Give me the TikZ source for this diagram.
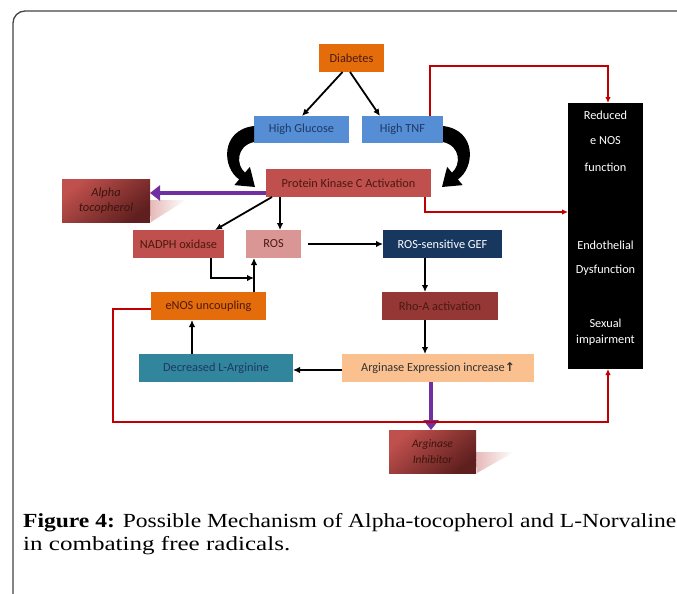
\documentclass[tikz,border=0pt]{standalone}
\usepackage{fontspec}
\usepackage{graphicx}
\setmainfont{Carlito}
\newfontfamily\capfont{Liberation Serif}
\newfontfamily\djv{DejaVu Sans}
\usetikzlibrary{arrows.meta,calc}
\definecolor{orng}{HTML}{E46C0A}
\definecolor{blu}{HTML}{558ED5}
\definecolor{rd}{HTML}{C0504D}
\definecolor{pnk}{HTML}{D99694}
\definecolor{navy}{HTML}{17375E}
\definecolor{rho}{HTML}{953735}
\definecolor{peach}{HTML}{FAC090}
\definecolor{teal}{HTML}{31859C}
\definecolor{dkred}{HTML}{5E1F1E}
\definecolor{lnred}{HTML}{C00000}
\definecolor{purp}{HTML}{7030A0}
\definecolor{shad}{HTML}{E6B9B8}
\definecolor{txbr}{HTML}{4A1A10}
\definecolor{txnv}{HTML}{1F3864}
\definecolor{frame}{HTML}{444444}
\tikzset{
  bx/.style={inner sep=0pt, outer sep=0pt, font=\fontsize{12.3}{14}\selectfont},
  gbx/.style={inner sep=0pt, outer sep=0pt, top color=rd, bottom color=dkred, shading angle=40, text=txbr!80!black, align=center},
  arr/.style={draw=black, line width=1.8pt, -{Latex[length=7pt,width=6.5pt]}},
  rarr/.style={draw=lnred, line width=1.7pt, -{Latex[length=6pt,width=5.5pt]}},
  parr/.style={draw=purp, line width=4.5pt, -{Triangle[length=10pt,width=15pt]}},
  wt/.style={text=white, inner sep=0pt, font=\fontsize{12.3}{14}\selectfont}
}
\begin{document}
\begin{tikzpicture}[x=1pt,y=-1pt]
\useasboundingbox (0,0) rectangle (677,594);
\fill[white] (0,0) rectangle (677,594);
% page frame
\draw[frame, line width=1.3pt] (13,594) -- (13,23) arc[start angle=180, end angle=270, radius=12] -- (677,11);

% nodes
\node[bx, fill=orng, text=txbr, minimum width=65pt, minimum height=28pt] (dia) at (351.5,58) {Diabetes};
\node[bx, fill=blu, text=txnv, minimum width=95pt, minimum height=27pt] (hg) at (301.5,129.5) {High Glucose};
\node[bx, fill=blu, text=txnv, minimum width=81pt, minimum height=27pt] (tnf) at (402.5,129.5) {High TNF};
\node[bx, fill=rd, text=txbr, minimum width=165pt, minimum height=28pt] (pkc) at (348.5,183) {Protein Kinase C Activation};
\node[bx, fill=rd, text=txbr, minimum width=91pt, minimum height=28pt] (nadph) at (178.5,244) {NADPH oxidase};
\node[bx, fill=pnk, text=txbr, minimum width=55pt, minimum height=28pt] (ros) at (273.5,244) {ROS};
\node[bx, fill=navy, text=white, minimum width=119pt, minimum height=28pt] (gef) at (442.5,244) {ROS-sensitive GEF};
\node[bx, fill=rho, text=txbr, minimum width=116pt, minimum height=28pt] (rhoa) at (440,306) {Rho-A activation};
\node[bx, fill=orng, text=txbr, minimum width=115pt, minimum height=28pt] (eno) at (208.5,306) {eNOS uncoupling};
\node[bx, fill=teal, text=txnv, minimum width=154pt, minimum height=28pt] (dla) at (216,368) {Decreased L-Arginine};
\node[bx, fill=peach, text=black!80, minimum width=192pt, minimum height=28pt] (arg) at (438,368) {Arginase Expression increase{\djv\bfseries\fontsize{12}{14}\selectfont ↑}};
\node[inner sep=0pt, outer sep=0pt, fill=black, minimum width=75pt, minimum height=266pt] (blk) at (605.5,236) {};
\node[wt] (t1) at (605.5,115) {Reduced};
\node[wt] (t2) at (605.5,141) {e NOS};
\node[wt] (t3) at (605.5,167) {function};
\node[wt] (t4) at (605.5,245) {Endothelial};
\node[wt] (t5) at (605.5,270) {Dysfunction};
\node[wt] (t6) at (605.5,323) {Sexual};
\node[wt] (t7) at (605.5,340) {impairment};

% shadows
\shade[left color=shad, right color=white] (150,200) -- (186,200) -- (151,222) -- cycle;
\shade[left color=shad, right color=white] (476,452) -- (514,452) -- (477,473) -- cycle;
\node[gbx, minimum width=88pt, minimum height=43pt, font=\fontsize{12.5}{15}\selectfont\itshape] (alpha) at (106,200.5) {Alpha\\tocopherol};
\node[gbx, minimum width=87pt, minimum height=43pt, font=\fontsize{11.5}{16}\selectfont\itshape] (inh) at (432.5,451.5) {Arginase\\Inhibitor};

% curved black arrows
\fill[black] (254,126) .. controls (220,130) and (222,168) .. (239.2,179.4) -- (234.3,185.1) -- (255,187) -- (249.9,166.9) -- (245,172.6) .. controls (236,165) and (236,146) .. (254,142) -- cycle;
\fill[black] (443,126) .. controls (477,130) and (475,168) .. (457.8,179.4) -- (462.7,185.1) -- (442,187) -- (447.1,166.9) -- (452,172.6) .. controls (461,165) and (461,146) .. (443,142) -- cycle;

% black connectors
\draw[arr] ([xshift=-9pt]dia.south) -- ([xshift=0.5pt]hg.north);
\draw[arr] ([xshift=-1.5pt]dia.south) -- ([xshift=-22.5pt]tnf.north);
\draw[arr] ([xshift=-76.5pt]pkc.south) -- ([xshift=36.5pt]nadph.north);
\draw[arr] ([xshift=14pt]pkc.south west) -- ([xshift=14pt]pkc.south west |- ros.north);
\draw[arr] ([xshift=7pt]ros.east) -- (gef.west);
\coordinate (jn) at (254,278);
\draw[arr] ([xshift=32.5pt]nadph.south) |- (jn);
\draw[arr] ([xshift=45.5pt]eno.north) -- ([xshift=-19.5pt]ros.south);
\draw[arr] ([xshift=-24pt]dla.north) -- ([xshift=-24pt]dla.north |- eno.south);
\draw[arr] ([yshift=-2pt]arg.west) -- ([yshift=-2pt]dla.east);
\draw[arr] ([xshift=-17.5pt]gef.south) -- ([xshift=-17.5pt]gef.south |- rhoa.north);
\draw[arr] ([xshift=-15pt]rhoa.south) -- ([xshift=-15pt]rhoa.south |- arg.north);

% purple connectors
\draw[parr] ([yshift=-10pt]pkc.west) -- ([yshift=-10pt]pkc.west -| alpha.east);
\draw[parr] ([xshift=-7pt]arg.south) -- ([xshift=-7pt]arg.south |- inh.north);

% red connectors
\coordinate (rt) at (608,66);
\draw[rarr] ([xshift=27.5pt]tnf.north) |- (rt) -- ([xshift=2.5pt]blk.north);
\draw[rarr] ([xshift=-6pt]pkc.south east) |- ([yshift=24pt]blk.west);
\coordinate (lb) at (113,422);
\coordinate (rb) at (608,422);
\draw[rarr] ([yshift=-3pt]eno.west) -| (lb) -- (rb) -- ([xshift=2.5pt]blk.south);

% caption
\node[anchor=base west, inner sep=0pt] (cap1) at (23,527) {\capfont\fontsize{20}{24}\selectfont\resizebox{653pt}{\height}{\textbf{Figure 4:} Possible Mechanism of Alpha-tocopherol and L-Norvaline}};
\node[anchor=base west, inner sep=0pt] (cap2) at (23,550) {\capfont\fontsize{20}{24}\selectfont\resizebox{267pt}{\height}{in combating free radicals.}};
\end{tikzpicture}
\end{document}
